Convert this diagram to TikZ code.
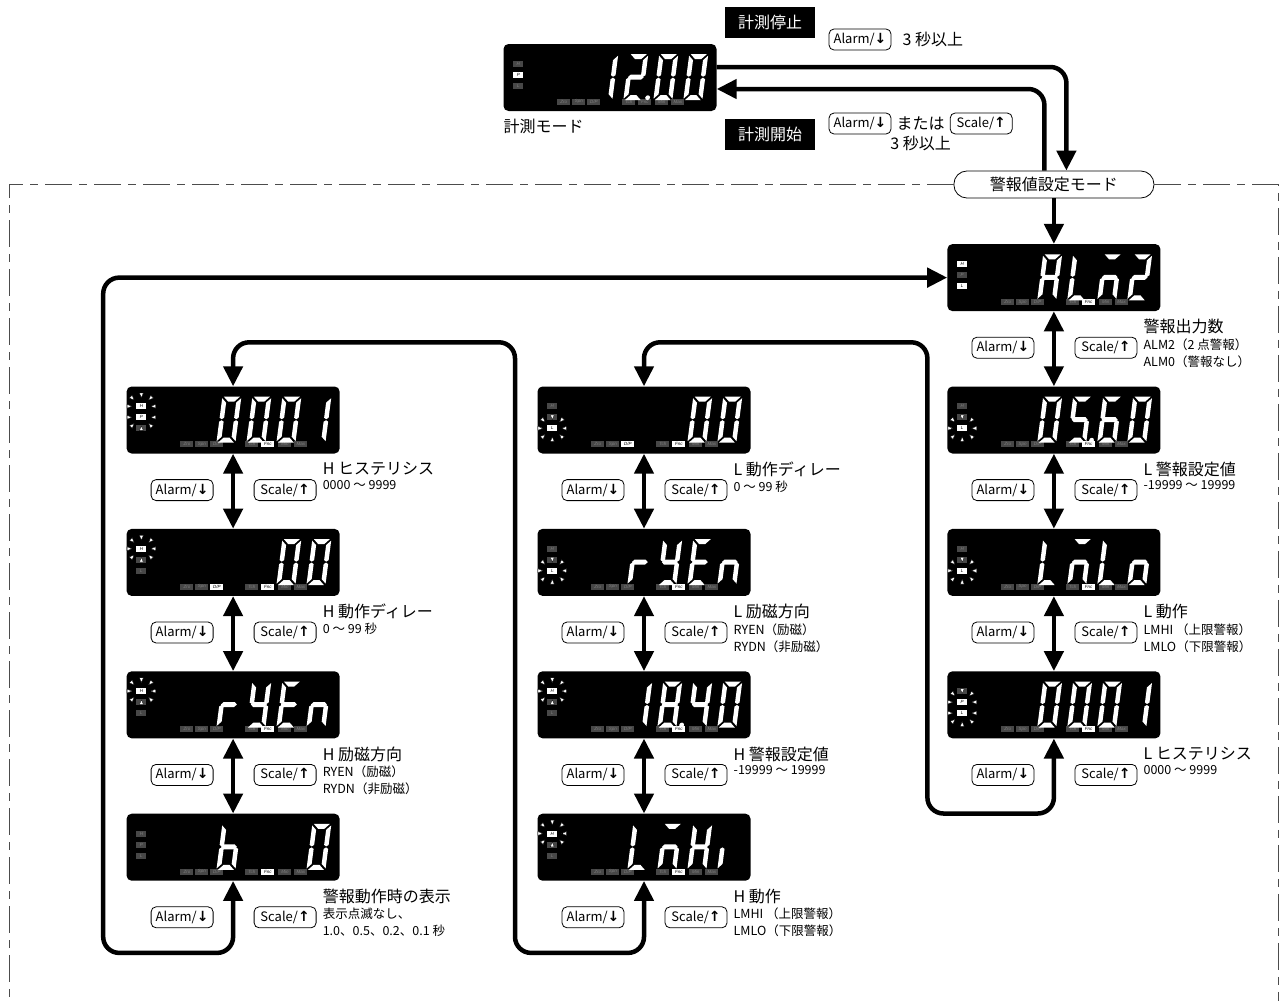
\documentclass[tikz,border=0pt]{standalone}
\usepackage{fontspec}
\setmainfont{Noto Sans CJK JP}
\newfontfamily\panelfont{Liberation Sans}
\newfontfamily\arrowfont{DejaVu Sans}
\usetikzlibrary{arrows.meta, positioning, calc}

\newcommand{\ttlfont}{\fontsize{16}{19}\selectfont}
\newcommand{\sublblfont}{\fontsize{12.5}{17}\selectfont}
\newcommand{\keyfont}{\fontsize{13}{15}\selectfont}
\newcommand{\dnkey}{Alarm/{\arrowfont\bfseries\fontsize{14}{15}\selectfont ↓}}
\newcommand{\upkey}{Scale/{\arrowfont\bfseries\fontsize{14}{15}\selectfont ↑}}

% seven-segment pieces (digit foot at origin, y grows downwards)
\newcommand{\lcdsega}{(1.5,-46) -- (17.5,-46) -- (12.5,-41) -- (6.5,-41) -- cycle}
\newcommand{\lcdsegb}{(19,-44.5) -- (19,-25) -- (16.75,-23.5) -- (14.5,-25) -- (14.5,-40) -- cycle}
\newcommand{\lcdsegc}{(19,-1.5) -- (19,-21) -- (16.75,-22.5) -- (14.5,-21) -- (14.5,-6) -- cycle}
\newcommand{\lcdsegd}{(1.5,0) -- (17.5,0) -- (12.5,-5) -- (6.5,-5) -- cycle}
\newcommand{\lcdsege}{(0,-1.5) -- (0,-21) -- (2.25,-22.5) -- (4.5,-21) -- (4.5,-6) -- cycle}
\newcommand{\lcdsegf}{(0,-44.5) -- (0,-25) -- (2.25,-23.5) -- (4.5,-25) -- (4.5,-40) -- cycle}
\newcommand{\lcdsegg}{(1.5,-23) -- (4,-25.5) -- (15,-25.5) -- (17.5,-23) -- (15,-20.5) -- (4,-20.5) -- cycle}
\newcommand{\lcdsegp}{(24,-2.5) circle (2.4)}

% one digit: display, cell offset, segments
\newcommand{\lcddigit}[3]{%
  \begin{scope}[shift={($(#1.south west)+(#2,-11)$)}, xslant=0.13]
    \foreach \s in {#3} {\fill[white] \csname lcdseg\s\endcsname;}
  \end{scope}}

% bottom lamp row: display, D/P style, Fnc style
\newcommand{\lcdrow}[3]{%
  \foreach \x/\t/\s [count=\i] in {54/Zro/panoff, 69/Spn/panoff, 84/D\slash P/#2, 119/Tch/panoff,
                                   135/Fnc/#3, 152/Min/panoff, 168/Max/panoff}
    {\node[\s] (#1p\i) at ($(#1.north west)+(\x+6.5,58)$) {\t};}}

% H/P/L lamps: display, style/text for each
\newcommand{\lcdhpl}[4]{%
  \foreach \y/\s/\t [count=\i] in {20/#2, 31/#3, 42/#4}
    {\node[\s, minimum width=10pt] (#1h\i) at ($(#1.north west)+(15,\y)$) {\t};}}

% blinking marks round the lit lamps: display, first row, last row
\newcommand{\blinkring}[3]{%
  \foreach \x/\y/\a in {15/#2-11/90, 15/#3+11/270, 3/#2/0, 3/#3/0, 27/#2/180, 27/#3/180,
                        6/#2-8/45, 24/#2-8/135, 6/#3+8/315, 24/#3+8/225}
    {\filldraw[blink] ($(#1.north west)+(\x,\y)$) +(\a:2.4) -- +(\a+140:3) -- +(\a-140:3) -- cycle;}}

\begin{document}
\begin{tikzpicture}[
  x=1pt, y=-1pt,
  >={Triangle[length=20pt, width=19pt]},
  lcd/.style={rectangle, fill=black, rounded corners=5pt, minimum width=213pt,
              minimum height=67pt, inner sep=0pt},
  panon/.style={rectangle, fill=white, text=black, minimum width=13pt, minimum height=6pt,
                inner sep=0pt, font=\panelfont\itshape\fontsize{4.5}{5}\selectfont},
  panoff/.style={panon, fill=black!72, text=black!50},
  key/.style={rectangle, draw, rounded corners=5pt, line width=0.8pt, minimum width=62pt,
              minimum height=21pt, inner sep=1pt, font=\keyfont},
  modebox/.style={rectangle, fill=black, text=white, minimum width=90pt,
                  minimum height=31pt, font=\ttlfont},
  pill/.style={rectangle, draw, rounded corners=13pt, line width=0.8pt, fill=white,
               minimum width=200pt, minimum height=27pt, font=\ttlfont},
  ttl/.style={inner sep=0pt, font=\ttlfont},
  sublbl/.style={inner sep=0pt, align=left, font=\sublblfont},
  arr/.style={->, line width=4.5pt},
  dbl/.style={<->, line width=4.5pt},
  loopline/.style={<->, line width=4.5pt, rounded corners=16pt},
  blink/.style={fill=white, draw=black, line width=0.3pt},
  setframe/.style={draw=black!70, line width=0.8pt, dash pattern=on 27pt off 7pt on 8pt off 7pt},
]
\useasboundingbox (0,0) rectangle (1287,1001);

% Measuring mode
\node[lcd] (meas) at (610,77.5) {};
\node[ttl, below right=8pt and 0pt of meas.south west] (measlbl) {計測モード};
\node[modebox] (stop) at (770,22) {計測停止};
\node[modebox] (start) at (770,134) {計測開始};
\node[key] (kstop) at (860,39.5) {\dnkey};
\node[ttl, right=11pt of kstop] (stoptime) {3 秒以上};
\node[key] (kstartA) at (860,123.5) {\dnkey};
\node[ttl, right=5pt of kstartA] (mata) {または};
\node[key, right=5pt of mata] (kstartS) {\upkey};
\node[ttl, below=5pt of mata] (starttime) {3 秒以上};

% Columns of set displays
\node[lcd] (m1) at (644,420) {};
\node[lcd, below=75pt of m1] (m2) {};
\node[lcd, below=75pt of m2] (m3) {};
\node[lcd, below=75pt of m3] (m4) {};
\node[lcd, left=197.5pt of m1] (l1) {};
\node[lcd, below=75pt of l1] (l2) {};
\node[lcd, below=75pt of l2] (l3) {};
\node[lcd, below=75pt of l3] (l4) {};
\node[lcd, right=196.5pt of m1] (r1) {};
\node[lcd, above=75pt of r1] (r0) {};
\node[lcd, below=75pt of r1] (r2) {};
\node[lcd, below=75pt of r2] (r3) {};
\node[pill, above=45.5pt of r0] (pill) {警報値設定モード};

% Lamps
\lcdhpl{meas}{panoff/H}{panon/P}{panoff/L}   \lcdrow{meas}{panoff}{panoff}
\lcdhpl{r0}{panon/H}{panoff/P}{panon/L}      \lcdrow{r0}{panoff}{panon}
\lcdhpl{r1}{panoff/H}{panoff/}{panon/L}      \lcdrow{r1}{panoff}{panon}  \blinkring{r1}{42}{42}
\lcdhpl{r2}{panoff/H}{panoff/}{panon/L}      \lcdrow{r2}{panoff}{panon}  \blinkring{r2}{42}{42}
\lcdhpl{r3}{panoff/}{panon/P}{panon/L}       \lcdrow{r3}{panoff}{panon}  \blinkring{r3}{31}{42}
\lcdhpl{m1}{panoff/H}{panoff/}{panon/L}      \lcdrow{m1}{panon}{panon}   \blinkring{m1}{42}{42}
\lcdhpl{m2}{panoff/H}{panoff/}{panon/L}      \lcdrow{m2}{panoff}{panon}  \blinkring{m2}{42}{42}
\lcdhpl{m3}{panon/H}{panoff/}{panoff/L}      \lcdrow{m3}{panoff}{panon}  \blinkring{m3}{20}{20}
\lcdhpl{m4}{panon/H}{panoff/}{panoff/L}      \lcdrow{m4}{panoff}{panon}  \blinkring{m4}{20}{20}
\lcdhpl{l1}{panon/H}{panon/P}{panoff/}       \lcdrow{l1}{panoff}{panon}  \blinkring{l1}{20}{31}
\lcdhpl{l2}{panon/H}{panoff/}{panoff/L}      \lcdrow{l2}{panon}{panon}   \blinkring{l2}{20}{20}
\lcdhpl{l3}{panon/H}{panoff/}{panoff/L}      \lcdrow{l3}{panoff}{panon}  \blinkring{l3}{20}{20}
\lcdhpl{l4}{panoff/H}{panoff/P}{panoff/L}    \lcdrow{l4}{panoff}{panon}

% Digits
\lcddigit{meas}{90}{b,c}        \lcddigit{meas}{120}{a,b,g,e,d,p}
\lcddigit{meas}{150}{a,b,c,d,e,f} \lcddigit{meas}{180}{a,b,c,d,e,f}
\lcddigit{r0}{90}{a,b,c,e,f,g}  \lcddigit{r0}{120}{d,e,f}
\lcddigit{r0}{150}{a,c,e,g}     \lcddigit{r0}{180}{a,b,g,e,d}
\lcddigit{r1}{90}{a,b,c,d,e,f}  \lcddigit{r1}{120}{a,f,g,c,d,p}
\lcddigit{r1}{150}{a,f,g,e,d,c} \lcddigit{r1}{180}{a,b,c,d,e,f}
\lcddigit{r2}{90}{d,e,f}        \lcddigit{r2}{120}{a,c,e,g}
\lcddigit{r2}{150}{d,e,f}       \lcddigit{r2}{180}{c,d,e,g}
\lcddigit{r3}{90}{a,b,c,d,e,f}  \lcddigit{r3}{120}{a,b,c,d,e,f}
\lcddigit{r3}{150}{a,b,c,d,e,f} \lcddigit{r3}{180}{b,c}
\lcddigit{m1}{150}{a,b,c,d,e,f} \lcddigit{m1}{180}{a,b,c,d,e,f}
\lcddigit{m2}{90}{e,g}          \lcddigit{m2}{120}{b,c,d,f,g}
\lcddigit{m2}{150}{a,d,e,f,g}   \lcddigit{m2}{180}{c,e,g}
\lcddigit{m3}{90}{b,c}          \lcddigit{m3}{120}{a,b,c,d,e,f,g,p}
\lcddigit{m3}{150}{b,c,f,g}     \lcddigit{m3}{180}{a,b,c,d,e,f}
\lcddigit{m4}{90}{d,e,f}        \lcddigit{m4}{120}{a,c,e,g}
\lcddigit{m4}{150}{b,c,e,f,g}   \lcddigit{m4}{180}{e}
\lcddigit{l1}{90}{a,b,c,d,e,f}  \lcddigit{l1}{120}{a,b,c,d,e,f}
\lcddigit{l1}{150}{a,b,c,d,e,f} \lcddigit{l1}{180}{b,c}
\lcddigit{l2}{150}{a,b,c,d,e,f} \lcddigit{l2}{180}{a,b,c,d,e,f}
\lcddigit{l3}{90}{e,g}          \lcddigit{l3}{120}{b,c,d,f,g}
\lcddigit{l3}{150}{a,d,e,f,g}   \lcddigit{l3}{180}{c,e,g}
\lcddigit{l4}{90}{c,d,e,f,g}    \lcddigit{l4}{180}{a,b,c,d,e,f}

% Keys and setting texts
\foreach \d in {l1,l2,l3,l4,m1,m2,m3,m4,r0,r1,r2,r3} {
  \node[key, below=25.5pt of \d, xshift=-51pt] (ka\d) {\dnkey};
  \node[key, below=25.5pt of \d, xshift=52pt] (ks\d) {\upkey};
}
\foreach \d/\hd/\bd in {
    r0/警報出力数/{ALM2（2 点警報）\\ALM0（警報なし）},
    r1/L 警報設定値/{-19999 〜 19999},
    r2/L 動作/{LMHI （上限警報）\\LMLO（下限警報）},
    r3/L ヒステリシス/{0000 〜 9999},
    m1/L 動作ディレー/{0 〜 99 秒},
    m2/L 励磁方向/{RYEN（励磁）\\RYDN（非励磁）},
    m3/H 警報設定値/{-19999 〜 19999},
    m4/H 動作/{LMHI （上限警報）\\LMLO（下限警報）},
    l1/H ヒステリシス/{0000 〜 9999},
    l2/H 動作ディレー/{0 〜 99 秒},
    l3/H 励磁方向/{RYEN（励磁）\\RYDN（非励磁）},
    l4/警報動作時の表示/{表示点滅なし、\\1.0、0.5、0.2、0.1 秒}} {
  \node[ttl, below right=8pt and 89.5pt of \d.south] (t\d) {\hd};
  \node[sublbl, below right=27pt and 89.5pt of \d.south] (s\d) {\bd};
}

% Frame of the alarm setting mode
\coordinate (frameBL) at (9,1001);
\coordinate (frameBR) at (1278,1001);
\draw[setframe] (pill.west) -| (frameBL);
\draw[setframe] (pill.east) -| (frameBR);

% Arrows
\draw[arr, rounded corners=16pt] ([yshift=10.5pt]meas.east) -| ([xshift=12.5pt]pill.north);
\draw[arr, rounded corners=16pt] ([xshift=-9.5pt]pill.north) |- ([yshift=-11.5pt]meas.east);
\draw[arr] (pill) -- (r0);
\foreach \a/\b in {r0/r1, r1/r2, r2/r3, m1/m2, m2/m3, m3/m4, l1/l2, l2/l3, l3/l4}
  \draw[dbl] (\a) -- (\b);
\draw[loopline] (m1.north) -- ++(0,-44) -| ([xshift=-126.5pt, yshift=-75pt]r3.south) -| (r3.south);
\draw[loopline] (l1.north) -- ++(0,-44) -| ([xshift=-129pt, yshift=-72pt]m4.south) -| (m4.south);
\draw[loopline] (l4.south) -- ++(0,72) -| ([xshift=-844pt]r0.west) -- (r0.west);

\end{tikzpicture}
\end{document}
